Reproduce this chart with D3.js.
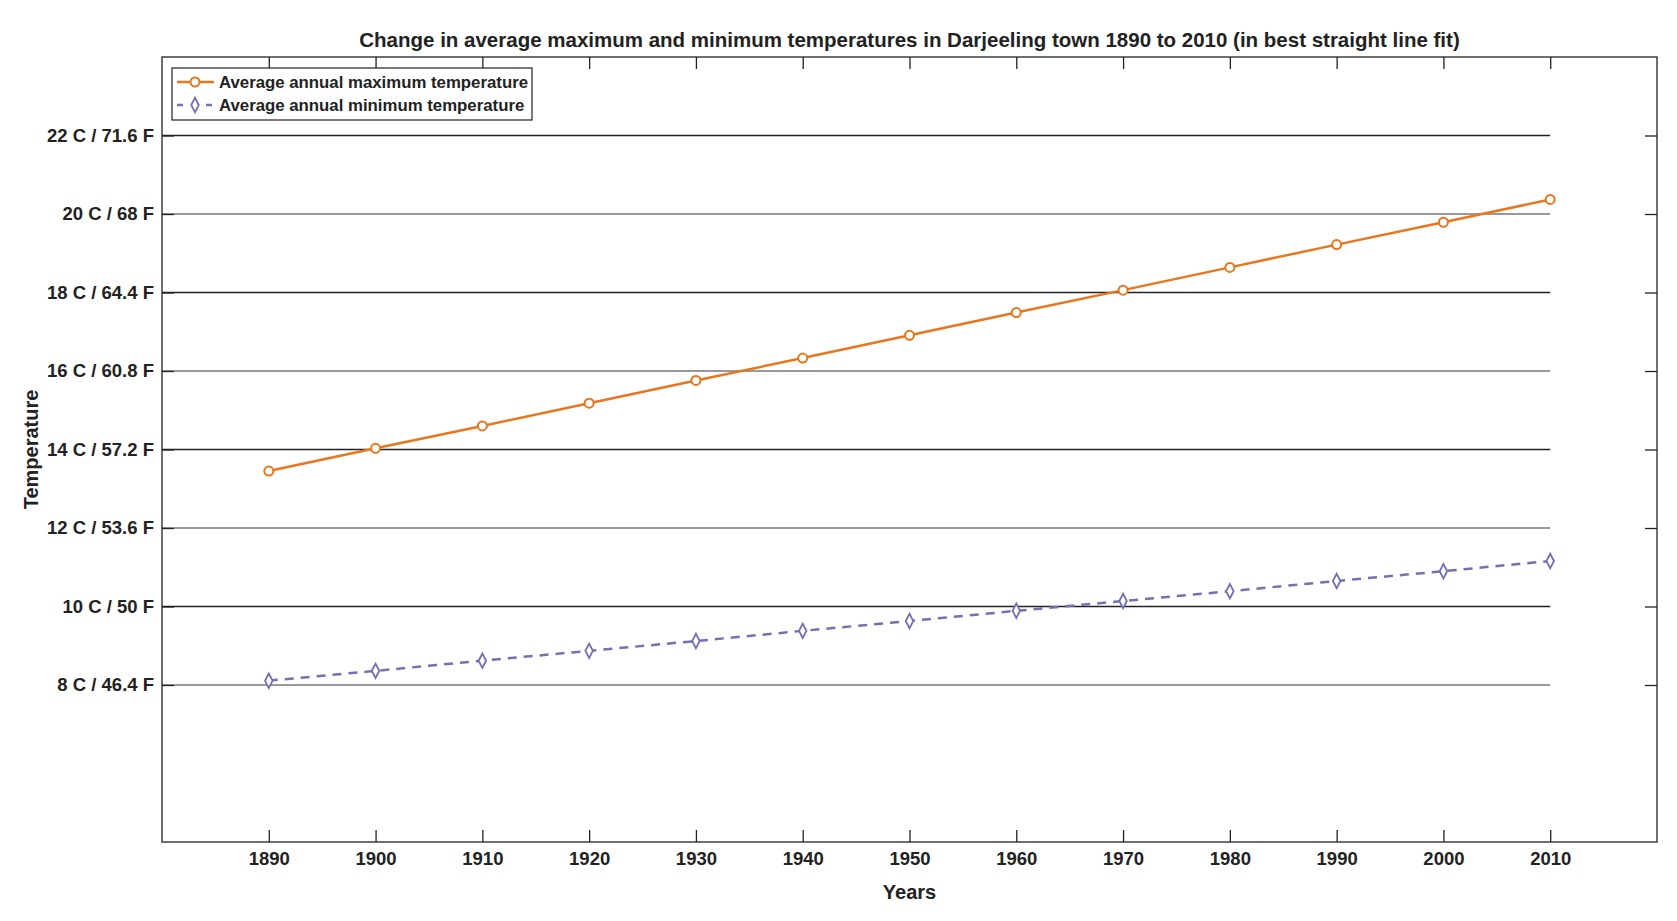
<!DOCTYPE html>
<html>
<head>
<meta charset="utf-8">
<script src="https://cdn.jsdelivr.net/npm/d3@7"></script>
<style>
  body { margin: 0; background: #fff; }
  text { font-family: "Liberation Sans", Arial, sans-serif; font-weight: bold; fill: #222; }
</style>
</head>
<body>
<div id="chart"></div>
<script>
// Data
var years = [1890, 1900, 1910, 1920, 1930, 1940, 1950, 1960, 1970, 1980, 1990, 2000, 2010];
var maxTemp = [13.45, 14.03, 14.6, 15.18, 15.76, 16.33, 16.91, 17.49, 18.06, 18.64, 19.22, 19.79, 20.37];
var minTemp = [8.11, 8.36, 8.62, 8.87, 9.12, 9.38, 9.63, 9.89, 10.14, 10.39, 10.65, 10.90, 11.16];
var yTicks = [8, 10, 12, 14, 16, 18, 20, 22];
var yTickLabels = ["8 C / 46.4 F", "10 C / 50 F", "12 C / 53.6 F", "14 C / 57.2 F",
                   "16 C / 60.8 F", "18 C / 64.4 F", "20 C / 68 F", "22 C / 71.6 F"];

var svgWidth = 1677, svgHeight = 921;
var margin = { top: 57, right: 20, bottom: 79, left: 162 };
var width = svgWidth - margin.left - margin.right;
var height = svgHeight - margin.top - margin.bottom;

var svg = d3.select("#chart").append("svg")
    .attr("width", svgWidth).attr("height", svgHeight);
var g = svg.append("g").attr("transform", `translate(${margin.left},${margin.top})`);

var x = d3.scaleLinear().domain([1880, 2020]).range([0, width]);
var y = d3.scaleLinear().domain([4, 24]).range([height, 0]);

// grid lines, drawn only up to 2010
g.selectAll(".grid").data(yTicks).enter().append("line")
    .attr("x1", 0).attr("x2", x(2010))
    .attr("y1", d => y(d)).attr("y2", d => y(d))
    .attr("stroke", (d, i) => i % 2 ? "#222" : "#777")
    .attr("stroke-width", 1.3);

// box
g.append("rect").attr("width", width).attr("height", height)
    .attr("fill", "none").attr("stroke", "#222").attr("stroke-width", 1.3);

// bottom axis
g.append("g").attr("transform", `translate(0,${height})`)
    .call(d3.axisBottom(x).tickValues(years).tickFormat(d3.format("d")).tickSizeInner(-12).tickSizeOuter(0).tickPadding(10));
// top ticks
g.append("g").call(d3.axisTop(x).tickValues(years).tickFormat("").tickSizeInner(-12).tickSizeOuter(0));
// left axis
g.append("g")
    .call(d3.axisLeft(y).tickValues(yTicks).tickFormat((d, i) => yTickLabels[i]).tickSizeInner(-12).tickSizeOuter(0).tickPadding(8));
// right ticks
g.append("g").attr("transform", `translate(${width},0)`)
    .call(d3.axisRight(y).tickValues(yTicks).tickFormat("").tickSizeInner(-12).tickSizeOuter(0));
g.selectAll(".domain").remove();
g.selectAll(".tick line").attr("stroke", "#222").attr("stroke-width", 1.3);
g.selectAll(".tick text").style("font-size", "18.5px").style("fill", "#222");

var maxColor = "#e8761c", minColor = "#7471b3";
var line = d3.line().x((d, i) => x(years[i])).y(d => y(d));

g.append("path").datum(maxTemp).attr("d", line)
    .attr("fill", "none").attr("stroke", maxColor).attr("stroke-width", 2.5);
g.selectAll(".maxpt").data(maxTemp).enter().append("circle")
    .attr("cx", (d, i) => x(years[i])).attr("cy", d => y(d)).attr("r", 4.5)
    .attr("fill", "#fff").attr("stroke", maxColor).attr("stroke-width", 2);

g.append("path").datum(minTemp).attr("d", line)
    .attr("fill", "none").attr("stroke", minColor).attr("stroke-width", 2.5)
    .attr("stroke-dasharray", "9,7");
var diamond = d3.symbol().type(d3.symbolDiamond).size(60);
g.selectAll(".minpt").data(minTemp).enter().append("path")
    .attr("d", diamond)
    .attr("transform", (d, i) => `translate(${x(years[i])},${y(d)}) scale(0.9,1)`)
    .attr("fill", "#fff").attr("stroke", minColor).attr("stroke-width", 2);

// legend
var lg = svg.append("g").attr("transform", "translate(172,68)");
lg.append("rect").attr("width", 360).attr("height", 52)
    .attr("fill", "#fff").attr("stroke", "#222").attr("stroke-width", 1.2);
lg.append("line").attr("x1", 5).attr("x2", 42).attr("y1", 14).attr("y2", 14)
    .attr("stroke", maxColor).attr("stroke-width", 2.5);
lg.append("circle").attr("cx", 23).attr("cy", 14).attr("r", 4.5)
    .attr("fill", "#fff").attr("stroke", maxColor).attr("stroke-width", 2);
lg.append("line").attr("x1", 5).attr("x2", 42).attr("y1", 37).attr("y2", 37)
    .attr("stroke", minColor).attr("stroke-width", 2.5).attr("stroke-dasharray", "6,8.5");
lg.append("path").attr("d", diamond).attr("transform", "translate(23,37) scale(0.9,1)")
    .attr("fill", "#fff").attr("stroke", minColor).attr("stroke-width", 2);
lg.append("text").attr("x", 47).attr("y", 20).style("font-size", "16.8px").text("Average annual maximum temperature");
lg.append("text").attr("x", 47).attr("y", 43).style("font-size", "16.8px").text("Average annual minimum temperature");

// titles
svg.append("text").attr("x", margin.left + width / 2).attr("y", 47)
    .attr("text-anchor", "middle").style("font-size", "20.5px")
    .text("Change in average maximum and minimum temperatures in Darjeeling town 1890 to 2010 (in best straight line fit)");
svg.append("text").attr("x", margin.left + width / 2).attr("y", 899)
    .attr("text-anchor", "middle").style("font-size", "20px").text("Years");
svg.append("text").attr("transform", `translate(38,${margin.top + height / 2}) rotate(-90)`)
    .attr("text-anchor", "middle").style("font-size", "20px").text("Temperature");
</script>
</body>
</html>
